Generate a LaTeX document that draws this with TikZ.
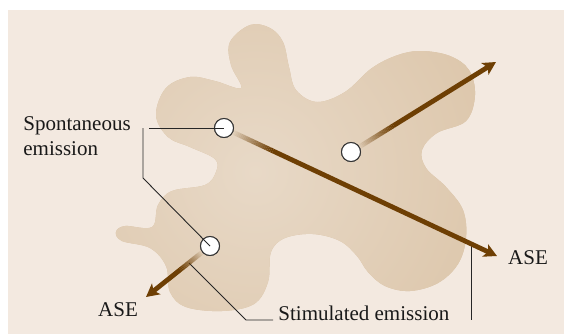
\documentclass[tikz,border=0pt]{standalone}
\usepackage{fontspec}
\setmainfont{Liberation Serif}
\newfontfamily\labelface{Liberation Serif}
\usetikzlibrary{calc,arrows.meta}

\definecolor{paper}{HTML}{F3E9E0}
\definecolor{blobedge}{HTML}{D8BFA0}
\definecolor{blobcore}{HTML}{E8D9C7}
\definecolor{beamc}{HTML}{6E3F04}

\tikzset{
  beam/.style={line width=2.4pt, draw=beamc, line cap=butt},
  beamtip/.style={-{Stealth[length=6.5pt,width=6.8pt,inset=1.6pt]}},
  atom/.style={circle, draw=black!80, line width=0.5pt, fill=white,
               minimum size=9.5pt, inner sep=0pt},
  leader/.style={draw=black!85, line width=0.45pt},
  lbl/.style={font=\labelface\fontsize{10.5}{12.5}\selectfont, inner sep=0pt, text=black!90},
}

% beam leaving an atom: fades in over #4 pt, starting #3 pt from the centre
\newcommand\beamfrom[4]{%
  \foreach \k [evaluate=\k as \op using (\k+1)/24,
               evaluate=\k as \da using #3+\k*#4/24,
               evaluate=\k as \db using #3+(\k+1)*#4/24] in {0,...,23}{
    \draw[beam, draw opacity=\op]
      ($(#1.center)!\da pt!(#2)$) -- ($(#1.center)!\db pt!(#2)$);
  }
  \draw[beam, beamtip] ($(#1.center)!#3pt+#4pt!(#2)$) -- (#2);
}

\def\blobpath{plot[smooth cycle, tension=0.6] coordinates {
  (250,25) (270,28) (283,42) (289,67) (296,90) (317,102) (345,92) (372,68)
  (398,55) (422,51) (450,56) (469,70) (475,95) (466,121) (437,133) (422,150)
  (426,168) (446,187) (463,210) (466,238) (458,264) (438,283) (410,291)
  (385,286) (368,272) (357,256) (340,241) (313,234) (285,238) (271,252)
  (268,282) (254,304) (222,311) (186,307) (170,292) (166,266) (150,248)
  (122,241) (116,232) (125,226) (152,227) (158,205) (172,191) (205,185)
  (216,172) (215,159) (190,147) (168,137) (156,115) (166,88) (190,77)
  (215,81) (241,88) (231,65) (230,42)}}

\begin{document}
\begin{tikzpicture}[x=0.5pt, y=-0.5pt]
  \useasboundingbox (0,0) rectangle (564,334);
  \fill[white] (0,0) rectangle (564,334);
  \fill[paper] (8,10) rectangle (564,334);

  % gain medium
  \fill[blobedge] \blobpath;
  \begin{scope}
    \clip \blobpath;
    \shade[inner color=blobcore, outer color=blobedge] (255,172) circle (175pt);
  \end{scope}

  % atoms and beam end points
  \node[atom] (c1) at (224,128) {};
  \node[atom] (c2) at (351,152) {};
  \node[atom] (c3) at (210,246) {};
  \coordinate (t1) at (497,256);
  \coordinate (t2) at (496,62);
  \coordinate (t3) at (146,297);

  % leaders meeting the beams
  \coordinate (s1) at (189,263);
  \coordinate (s2) at (246,320);
  \coordinate (s3) at (273,320);
  \draw[leader] (s1) -- (s2) -- (s3);
  \coordinate (r1) at (471,245);
  \coordinate (r2) at (471,320);
  \draw[leader] (r1) -- (r2);

  % beams
  \beamfrom{c1}{t1}{5}{22}
  \beamfrom{c2}{t2}{5}{20}
  \beamfrom{c3}{t3}{5}{14}

  % atoms drawn over the beam roots
  \node[atom] at (c1) {};
  \node[atom] at (c2) {};
  \node[atom] at (c3) {};

  % spontaneous emission leaders
  \coordinate (p1) at (149,128);
  \coordinate (p2) at (143,128);
  \coordinate (p3) at (143,178);
  \draw[leader] (p1) -- (c1.center);
  \draw[leader] (p2) -- (p3) -- (c3.center);

  % labels
  \node[lbl, anchor=north west, align=left] (spon) at (23,116)
    {Spontaneous\\emission};
  \node[lbl] (ase1) at (528,258) {ASE};
  \node[lbl] (ase2) at (118,309.5) {ASE};
  \node[lbl, anchor=base west] (stim) at (278,320) {Stimulated emission};
\end{tikzpicture}
\end{document}
